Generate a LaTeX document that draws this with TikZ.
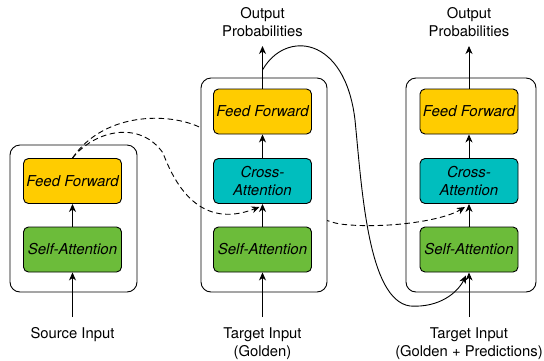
\documentclass[tikz,border=0pt]{standalone}
\usepackage{fontspec}
\setmainfont{TeX Gyre Heros}
\usetikzlibrary{arrows.meta,calc}
\definecolor{ffcol}{HTML}{FFCC00}
\definecolor{cacol}{HTML}{00BEBE}
\definecolor{sacol}{HTML}{6CBC3A}
\tikzset{
  cont/.style={draw=black, fill=white, line width=0.9pt, rounded corners=10pt, inner sep=0pt},
  blk/.style={draw=black, line width=0.9pt, rounded corners=5pt, minimum width=98pt, minimum height=45pt, inner sep=0pt, align=center, font=\fontsize{15}{18.5}\selectfont\itshape},
  lbl/.style={align=center, inner sep=0pt, font=\fontsize{14.8}{18.5}\selectfont},
  arr/.style={draw=black, line width=0.9pt, -{Stealth[length=8pt,width=7pt,inset=2.5pt]}},
  dasharr/.style={arr, dash pattern=on 5.5pt off 3.5pt},
}
\begin{document}
\begin{tikzpicture}[x=1pt,y=-1pt]
\useasboundingbox (0,0) rectangle (544,360);
% containers left and right
\node[cont, minimum width=127pt, minimum height=147pt] (lC) at (73.5,218.5) {};
\node[cont, minimum width=130pt, minimum height=214pt] (rC) at (471,185) {};
% left blocks
\node[blk, fill=ffcol] (lFF) at (72.5,181) {Feed Forward};
\node[blk, fill=sacol] (lSA) at (72.5,249.5) {Self-Attention};
% upper dashed curve (passes behind middle container)
\draw[dasharr] (lFF.north) .. controls (105,110) and (175,112) .. (205,130)
  .. controls (240,150) and (290,215) .. (340,224)
  .. controls (380,229) and (440,222) .. ($(469,204)+(-4,3)$);
% middle container
\node[cont, minimum width=126pt, minimum height=214pt] (mC) at (264,185) {};
\node[blk, fill=ffcol] (mFF) at (262.5,111.5) {Feed Forward};
\node[blk, fill=cacol] (mCA) at (262.5,181) {Cross-\\Attention};
\node[blk, fill=sacol] (mSA) at (262.5,249.5) {Self-Attention};
% right blocks
\node[blk, fill=ffcol] (rFF) at (469,111.5) {Feed Forward};
\node[blk, fill=cacol] (rCA) at (469,181) {Cross-\\Attention};
\node[blk, fill=sacol] (rSA) at (469,249.5) {Self-Attention};
% labels
\node[lbl] (lIn) at (72.5,335) {Source Input};
\node[lbl] (mIn) at (262.5,343.5) {Target Input\\(Golden)};
\node[lbl] (rIn) at (469,343.5) {Target Input\\(Golden + Predictions)};
\node[lbl] (mOut) at (262.5,22) {Output\\Probabilities};
\node[lbl] (rOut) at (469,22) {Output\\Probabilities};
% coordinates for free ends
\coordinate (lInT) at (72.5,317);
\coordinate (mInT) at (262.5,317);
\coordinate (rInT) at (469,317);
\coordinate (mOutB) at (262.5,46);
\coordinate (rOutB) at (469,46);
\coordinate (mTap) at (262.5,70);
% vertical arrows
\draw[arr] (lInT) -- (lSA.south);
\draw[arr] (lSA.north) -- (lFF.south);
\draw[arr] (mInT) -- (mSA.south);
\draw[arr] (mSA.north) -- (mCA.south);
\draw[arr] (mCA.north) -- (mFF.south);
\draw[arr] (mFF.north) -- (mOutB);
\draw[arr] (rInT) -- (rSA.south);
\draw[arr] (rSA.north) -- (rCA.south);
\draw[arr] (rCA.north) -- (rFF.south);
\draw[arr] (rFF.north) -- (rOutB);
% lower dashed curve
\draw[dasharr] (lFF.north) .. controls (95,130) and (140,120) .. (163,153)
  .. controls (175,185) and (200,230) .. ($(mCA.south)+(-3,3)$);
% solid feedback curve
\draw[arr] (mTap) .. controls (285,30) and (345,35) .. (355,120)
  .. controls (362,190) and (368,300) .. (410,306)
  .. controls (440,308) and (458,292) .. ($(rSA.south)+(-3,3)$);
\end{tikzpicture}
\end{document}
